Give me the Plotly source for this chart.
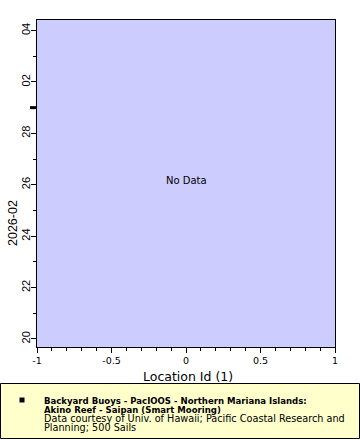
import plotly.graph_objects as go

# ---- data (the reference chart shows "No Data") ----
location_id = []
time = []

x_tick_vals = [-1, -0.5, 0, 0.5, 1]
x_tick_text = ["-1", "-0.5", "0", "0.5", "1"]
y_tick_vals = ["2026-02-20", "2026-02-22", "2026-02-24", "2026-02-26",
               "2026-02-28", "2026-03-02", "2026-03-04"]
y_tick_text = ["20", "22", "24", "26", "28", "02", "04"]
month_boundary = "2026-03-01"

x_title = "Location Id (1)"
y_title = "2026-02"
legend_title_lines = ["Backyard Buoys - PacIOOS - Northern Mariana Islands:",
                      "Akino Reef - Saipan (Smart Mooring)"]
legend_credit_lines = ["Data courtesy of Univ. of Hawaii; Pacific Coastal Research and",
                       "Planning; 500 Sails"]

W, H = 360, 440
L, R, T, B = 37, 335, 20, 347
PW, PH = R - L, B - T


def px(x):
    return (x - L) / PW


def py(y):
    return (B - y) / PH


fig = go.Figure()
fig.add_trace(go.Scatter(x=location_id, y=time, mode="markers",
                         marker=dict(symbol="square", color="black", size=5),
                         showlegend=False))

dj = "DejaVu Sans"
djc = "DejaVu Sans Condensed"
ar = "Liberation Sans"

fig.update_layout(
    width=W, height=H,
    margin=dict(l=L, r=W - R, t=T, b=H - B, pad=0, autoexpand=False),
    paper_bgcolor="white",
    plot_bgcolor="#ccccff",
    showlegend=False,
    xaxis=dict(
        range=[-1, 1], tickmode="array", tickvals=x_tick_vals, ticktext=x_tick_text,
        ticks="outside", ticklen=5, tickwidth=1, tickcolor="black",
        minor=dict(dtick=0.1, ticks="outside", ticklen=3, tickcolor="black", showgrid=False),
        showgrid=False, zeroline=False, showline=True, linecolor="black", linewidth=1,
        mirror=True, automargin=False, tickfont=dict(family=dj, size=9.5, color="black"),
    ),
    yaxis=dict(
        type="date", range=["2026-02-19 16:30", "2026-03-04 09:50"],
        tickmode="array", tickvals=y_tick_vals, ticktext=y_tick_text,
        ticks="outside", ticklen=5, tickwidth=1, tickcolor="black",
        minor=dict(dtick=86400000, tick0="2026-02-21", ticks="outside", ticklen=3,
                   tickcolor="black", showgrid=False),
        showgrid=False, zeroline=False, showline=True, linecolor="black", linewidth=1,
        mirror=True, automargin=False, tickangle=-90, ticklabelstandoff=-3,
        tickfont=dict(family=ar, size=11, color="black"),
    ),
)

shapes = [
    # month boundary marker
    dict(type="line", xref="paper", yref="y", x0=px(30), x1=px(36.5),
         y0=month_boundary, y1=month_boundary, line=dict(color="black", width=3)),
    # legend box
    dict(type="rect", xref="paper", yref="paper", x0=px(0.5), x1=px(359.5),
         y0=py(438.5), y1=py(383.5), fillcolor="#ffffcc",
         line=dict(color="black", width=1), layer="below"),
    # legend marker
    dict(type="rect", xref="paper", yref="paper", x0=px(19.5), x1=px(24.5),
         y0=py(402.5), y1=py(397.5), fillcolor="black", line=dict(width=0)),
]
fig.update_layout(shapes=shapes)

ann = [
    dict(text="No Data", xref="paper", yref="paper", x=0.5, y=py(180),
         showarrow=False, font=dict(family=dj, size=10, color="black")),
    dict(text=x_title, xref="paper", yref="paper", x=px(187.5), y=py(377),
         yanchor="middle", showarrow=False, font=dict(family=dj, size=12.5, color="black")),
    dict(text=y_title, xref="paper", yref="paper", x=px(13), y=py(223),
         xanchor="center", yanchor="middle", textangle=-90, showarrow=False,
         font=dict(family=ar, size=12.5, color="black")),
]
ys = [400, 409, 418, 427]
for i, line in enumerate(legend_title_lines):
    ann.append(dict(text="<b>" + line + "</b>", xref="paper", yref="paper",
                    x=px(42), y=py(ys[i]), xanchor="left", yanchor="middle",
                    showarrow=False, font=dict(family=djc, size=9.5, color="black")))
for j, line in enumerate(legend_credit_lines):
    ann.append(dict(text=line, xref="paper", yref="paper",
                    x=px(42), y=py(ys[2 + j]), xanchor="left", yanchor="middle",
                    showarrow=False, font=dict(family=dj, size=9.7, color="black")))
fig.update_layout(annotations=ann)

fig.write_html("out.html", config={"displayModeBar": False},
               post_script="document.body.style.margin='0px';document.body.style.padding='0px';")
